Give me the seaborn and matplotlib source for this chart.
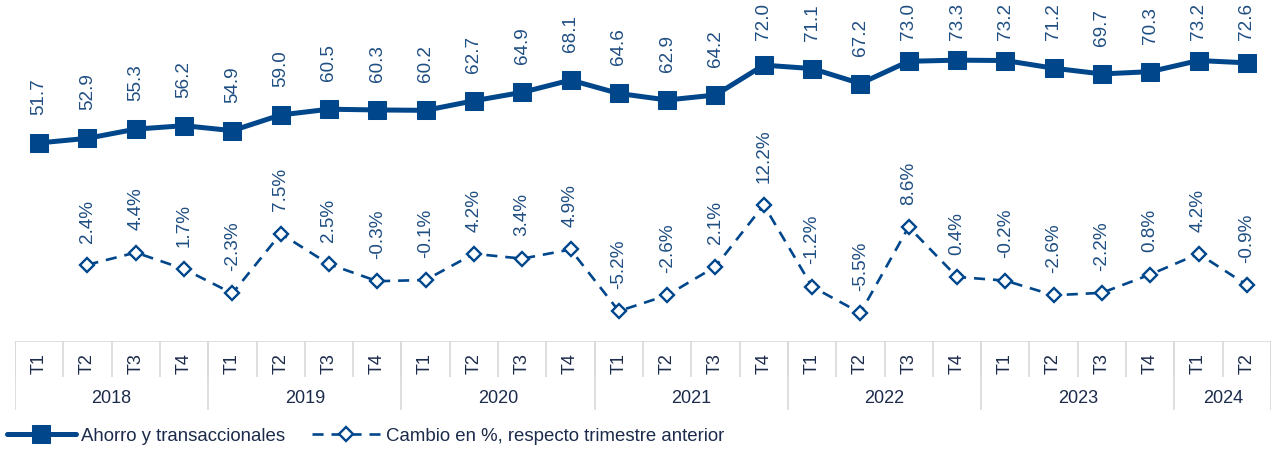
import matplotlib
matplotlib.use("Agg")
import matplotlib.pyplot as plt
import numpy as np
import pandas as pd
import seaborn as sns

# data
years = ["2018", "2019", "2020", "2021", "2022", "2023", "2024"]
quarters = ["T1", "T2", "T3", "T4"] * 6 + ["T1", "T2"]
year_of_point = [y for y in years[:-1] for _ in range(4)] + ["2024", "2024"]

ahorro = [51.7, 52.9, 55.3, 56.2, 54.9, 59.0, 60.5, 60.3, 60.2, 62.7, 64.9, 68.1,
          64.6, 62.9, 64.2, 72.0, 71.1, 67.2, 73.0, 73.3, 73.2, 71.2, 69.7, 70.3,
          73.2, 72.6]
cambio = [np.nan, 2.4, 4.4, 1.7, -2.3, 7.5, 2.5, -0.3, -0.1, 4.2, 3.4, 4.9,
          -5.2, -2.6, 2.1, 12.2, -1.2, -5.5, 8.6, 0.4, -0.2, -2.6, -2.2, 0.8,
          4.2, -0.9]

BLUE = "#00468b"
LABEL_BLUE = "#1f4e82"
NAVY = "#1c2b4b"
GRID = "#d9d9d9"

sns.set_theme(style="white")
plt.rcParams["font.family"] = ["Liberation Sans", "DejaVu Sans"]

df = pd.DataFrame({"x": np.arange(len(ahorro)), "ahorro": ahorro, "cambio": cambio})

fig = plt.figure(figsize=(12.74, 4.5), dpi=100)
left, width = 15 / 1274, 1256 / 1274
ax = fig.add_axes([left, 109 / 450, width, 341 / 450])
ax2 = ax.twinx()

sns.lineplot(data=df, x="x", y="ahorro", ax=ax, color=BLUE, linewidth=3.6,
             marker="s", markersize=13, markeredgecolor=BLUE,
             label="Ahorro y transaccionales", legend=False)
sns.lineplot(data=df.dropna(), x="x", y="cambio", ax=ax2, color=BLUE, linewidth=1.9,
             linestyle=(0, (4.2, 3)), marker="D", markersize=7,
             markerfacecolor="white", markeredgecolor=BLUE, markeredgewidth=1.7,
             label="Cambio en %, respecto trimestre anterior", legend=False)

n = len(ahorro)
for a in (ax, ax2):
    a.set_xlim(-0.5, n - 0.5)
    a.set_xticks([])
    a.set_yticks([])
    a.set_xlabel("")
    a.set_ylabel("")
    for s in a.spines.values():
        s.set_visible(False)
ax.set_ylim(0, 89)
ax2.set_ylim(-10.1, 45.8)

# value labels: 28 px above the marker, but kept inside the top of the figure
fig_h = fig.bbox.height
for xi, v in zip(df["x"], ahorro):
    px, py = ax.transData.transform((xi, v))
    ly = min(py + 28, fig_h - 40)
    ax.annotate(f"{v:.1f}", (xi, v), xytext=(px, ly), textcoords="figure pixels",
                rotation=90, ha="center", va="bottom", fontsize=13.6, color=LABEL_BLUE)
for xi, v in zip(df["x"], cambio):
    if np.isnan(v):
        continue
    ax2.annotate(f"{v:.1f}%", (xi, v), xytext=(0, 16), textcoords="offset points",
                 rotation=90, ha="center", va="bottom", fontsize=13.6, color=LABEL_BLUE)

# category table under the plot
tab = fig.add_axes([left, 40 / 450, width, 69 / 450])
tab.set_xlim(-0.5, n - 0.5)
tab.set_ylim(0, 1)
tab.axis("off")
split = 0.478
tab.hlines(1, -0.5, n - 0.5, color=GRID, lw=1.2)
tab.vlines(np.arange(n + 1) - 0.5, split, 1, color=GRID, lw=1.2)
year_edges = [i for i in range(n + 1) if i == 0 or i == n or year_of_point[i] != year_of_point[i - 1]]
tab.vlines(np.array(year_edges) - 0.5, 0, 1, color=GRID, lw=1.2)
for i, q in enumerate(quarters):
    tab.text(i, 0.68, q, rotation=90, ha="center", va="center", fontsize=13, color=NAVY)
for y in years:
    idx = [i for i, yy in enumerate(year_of_point) if yy == y]
    tab.text(np.mean(idx), 0.17, y, ha="center", va="center", fontsize=13, color=NAVY)

h1, l1 = ax.get_legend_handles_labels()
h2, l2 = ax2.get_legend_handles_labels()
fig.legend(h1 + h2, l1 + l2, loc="center left", bbox_to_anchor=(0.0055, 0.031),
           ncol=2, frameon=False, fontsize=13.4, handlelength=3.7, handletextpad=0.3,
           columnspacing=1.4, borderaxespad=0, borderpad=0, labelcolor=NAVY)

fig.savefig("out.png", dpi=100)
